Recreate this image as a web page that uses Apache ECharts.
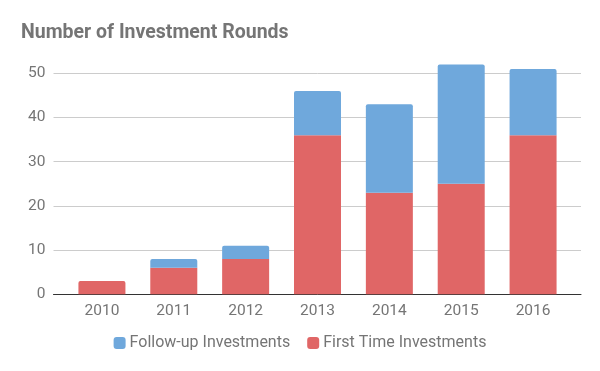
<!DOCTYPE html>
<html><head><meta charset="utf-8">
<script src="https://cdn.jsdelivr.net/npm/echarts@6/dist/echarts.min.js"></script>
<style>html,body{margin:0;padding:0;background:#fff}#c{width:600px;height:371px}</style>
</head><body><div id="c"></div>
<script>
const years = ['2010','2011','2012','2013','2014','2015','2016'];
const firstTime = [3, 6, 8, 36, 23, 25, 36];
const followUp = [0, 2, 3, 10, 20, 27, 15];
const yTicks = [0, 10, 20, 30, 40, 50];

const chart = echarts.init(document.getElementById('c'));
const font = 'Roboto';
const grey = '#757575';
chart.setOption({
  animation: false,
  title: {text: 'Number of Investment Rounds', left: 16, top: 18,
    textStyle: {fontFamily: font, fontSize: 19.5, fontWeight: 'bold', color: grey}},
  legend: {bottom: 15, left: 'center', itemWidth: 12, itemHeight: 12, itemGap: 17,
    icon: 'roundRect', data: ['Follow-up Investments', 'First Time Investments'],
    textStyle: {fontFamily: font, fontSize: 16, color: grey, padding: [0,0,0,-1]}},
  grid: [
    {left: 53.5, right: 19, top: 73.3, bottom: 76.7},
    {left: 66, right: 31, top: 73.3, bottom: 76.7}
  ],
  xAxis: [
    {gridIndex: 0, type: 'value', min: 0, max: 1, axisLabel: {show: false}, axisTick: {show: false},
      splitLine: {show: false}, axisLine: {show: true, lineStyle: {color: '#333', width: 1}}},
    {gridIndex: 1, type: 'category', data: years, axisLine: {show: false}, axisTick: {show: false},
      axisLabel: {fontFamily: font, fontSize: 15.5, color: grey, margin: 9}}
  ],
  yAxis: [
    {gridIndex: 0, type: 'value', min: yTicks[0], max: yTicks[yTicks.length-1], interval: 10,
      axisLine: {show: false}, axisTick: {show: false},
      axisLabel: {fontFamily: font, fontSize: 15.5, color: grey, margin: 8},
      splitLine: {lineStyle: {color: '#cccccc', width: 1}}},
    {gridIndex: 1, type: 'value', min: 0, max: 50, show: false, splitLine: {show: false}}
  ],
  series: [
    {name: 'First Time Investments', type: 'bar', stack: 's', xAxisIndex: 1, yAxisIndex: 1, clip: false,
      data: firstTime.map((v, i) => ({value: v, itemStyle: {borderRadius: followUp[i] ? 0 : [2,2,0,0]}})),
      barWidth: 47, itemStyle: {color: '#e06666'}, z: 3},
    {name: 'Follow-up Investments', type: 'bar', stack: 's', xAxisIndex: 1, yAxisIndex: 1, clip: false,
      data: followUp, barWidth: 47, itemStyle: {color: '#6fa8dc', borderRadius: [2,2,0,0]}, z: 3}
  ]
});
</script></body></html>
